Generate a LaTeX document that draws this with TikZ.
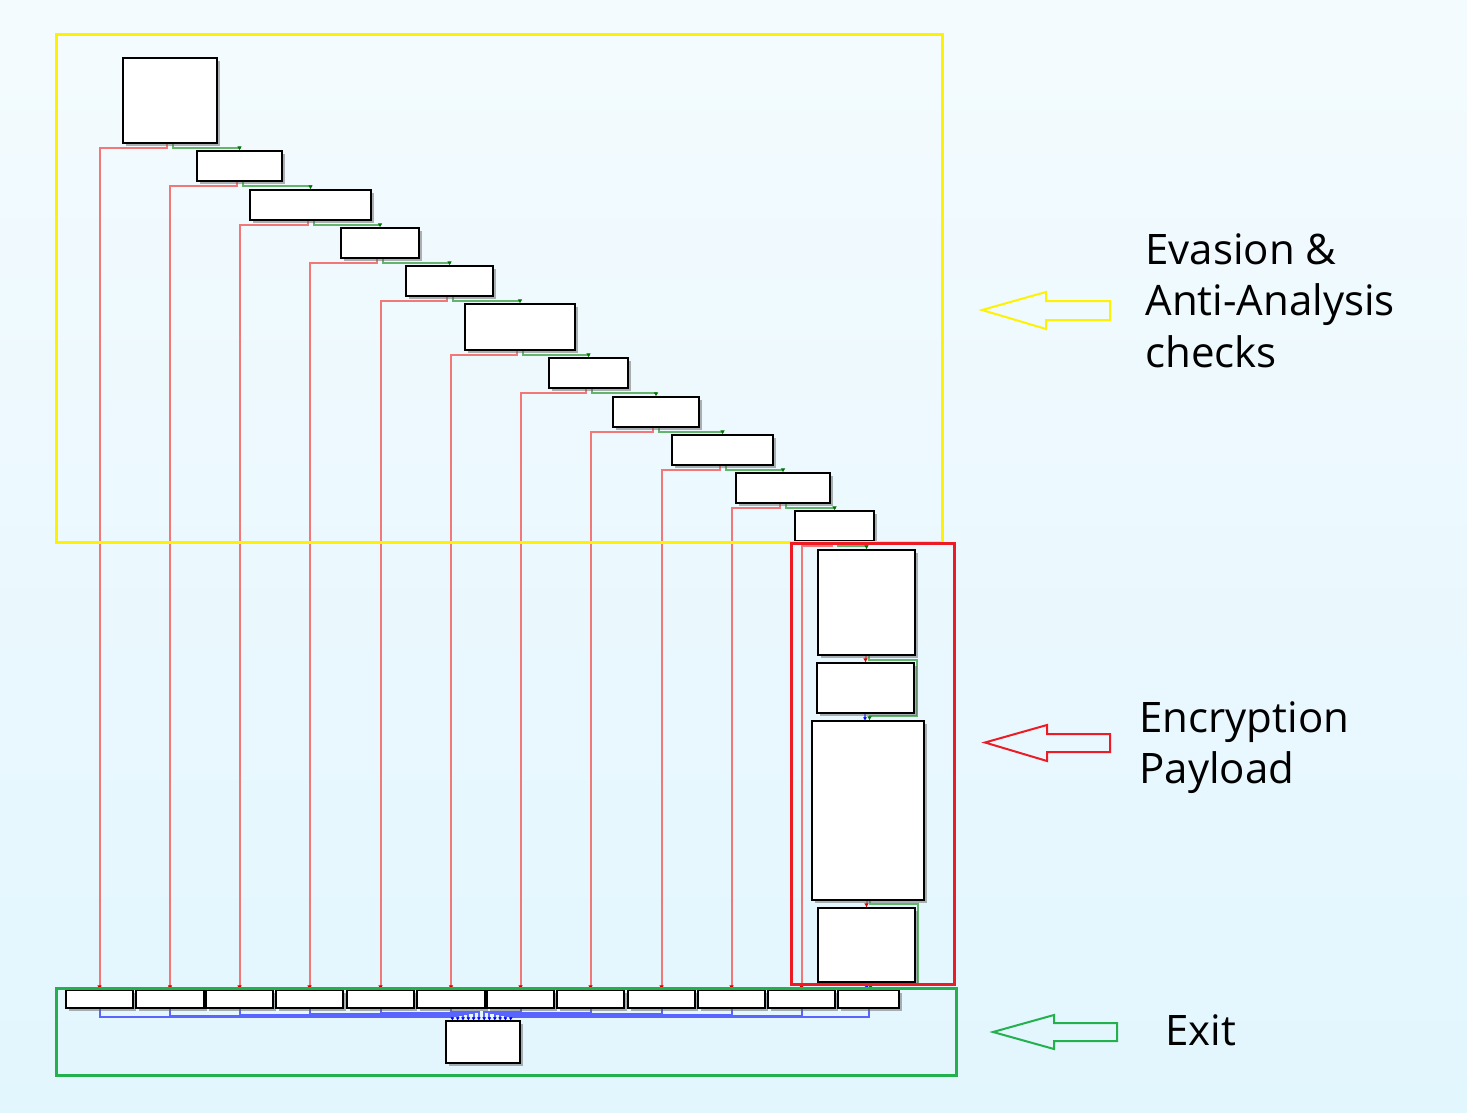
\documentclass[tikz,border=0pt]{standalone}
\usepackage{fontspec}
\setmainfont{Open Sans}
\usetikzlibrary{calc,fit,shadows,arrows.meta}
\pgfdeclarelayer{back}
\pgfdeclarelayer{lines}
\pgfsetlayers{back,lines,main}
\definecolor{bgtop}{RGB}{244,251,254}
\definecolor{bgbot}{RGB}{226,246,254}
\definecolor{redc}{RGB}{242,120,120}
\definecolor{greenc}{RGB}{100,180,110}
\definecolor{bluec}{RGB}{90,100,255}
\definecolor{frameyellow}{RGB}{255,242,0}
\definecolor{framered}{RGB}{237,28,36}
\definecolor{framegreen}{RGB}{34,177,76}
\begin{document}
\begin{tikzpicture}[x=0.5pt,y=-0.5pt,
  blk/.style={draw=black, line width=0.6pt, fill=white, inner sep=0pt,
    drop shadow={shadow xshift=1.6pt,shadow yshift=-1.6pt,fill=black!60,opacity=0.5}},
  redl/.style={draw=redc, line width=1pt, -{Latex[length=2pt,width=2.4pt,color=red!85!black]}},
  greenl/.style={draw=greenc, line width=1pt, -{Latex[length=2pt,width=2.4pt,color=green!45!black]}},
  bluel/.style={draw=bluec, line width=1pt, -{Latex[length=1.5pt,width=2pt,color=blue]}},
  frame/.style={line width=1.5pt},
  bigarrow/.style={line width=1pt, line join=miter},
  lbl/.style={font=\fontsize{21}{25.85}\selectfont, align=left, inner sep=0pt, text=black}
]
\useasboundingbox (0,0) rectangle (1467,1113);
\begin{pgfonlayer}{back}
\shade[top color=bgtop, bottom color=bgbot] (0,0) rectangle (1467,1113);
\end{pgfonlayer}

% chain blocks
\foreach \n/\xa/\ya/\xb/\yb in {
  b1/123/58/217/143, b2/197/151/282/181, b3/250/190/371/220,
  b4/341/228/419/258, b5/406/266/493/296, b6/465/304/575/350,
  b7/549/358/628/388, b8/613/397/699/427, b9/672/435/773/465,
  b10/736/473/830/503, b11/795/511/874/541, b12/818/550/915/655,
  b13/817/663/914/713, b14/812/721/924/900, b15/818/908/915/982}
  \node[blk, fit={(\xa,\ya) (\xb,\yb)}] (\n) {};

% bottom row blocks
\foreach \n/\xa/\xb in {
  r1/66/133, r2/136/204, r3/206/273, r4/276/343, r5/347/414, r6/417/485,
  r7/487/554, r8/557/624, r9/628/695, r10/698/765, r11/768/835, r12/838/899}
  \node[blk, fit={(\xa,990) (\xb,1008)}] (\n) {};

% exit block
\node[blk, fit={(446,1021) (520,1063)}] (ex) {};

\begin{pgfonlayer}{lines}
% evasion chain: false (red) to bottom row, true (green) to next check
\foreach \i [evaluate=\i as \j using int(\i+1)] in {1,...,11} {
  \draw[redl] ($(b\i.south)+(-3,0)$) -- ++(0,4) -| (r\i.north);
  \draw[greenl] ($(b\i.south)+(3,0)$) -- ++(0,4) -| (b\j.north);
}
% encryption payload
\draw[redl] ($(b12.south)+(-1,0)$) -- ($(b13.north)$);
\draw[greenl] ($(b12.south)+(2,0)$) -- ++(0,4) -- ++(48.5,0) |- ($(b14.north)+(1.5,-4)$) -- ($(b14.north)+(1.5,0)$);
\draw[bluel] ($(b13.south)+(-0.5,0)$) -- ($(b14.north)+(-3,0)$);
\draw[redl] ($(b14.south)+(-1.5,0)$) -- (b15.north);
\draw[greenl] ($(b14.south)+(2,0)$) -- ++(0,3) -- ++(48,0) |- ($(r12.north)+(2,-4)$) -- ($(r12.north)+(2,0)$);
\draw[bluel] (b15.south) -- ($(r12.north)+(-2,0)$);
% exits
\foreach \i/\d/\t in {1/8.7/7, 2/7.7/12.3, 3/6.3/17.6, 4/5.3/23, 5/4.3/28.2, 6/3/33.5,
  7/3/38.8, 8/4.3/44, 9/5.3/49.4, 10/6.3/54.7, 11/7.7/60, 12/8.7/65.3}
  \draw[bluel] (r\i.south) -- ++(0,\d) -| ($(ex.north west)+(\t,0)$);
\end{pgfonlayer}

% region frames
\draw[frame, frameyellow] (56,35) rectangle (942,542);
\draw[frame, framered] (791,543) rectangle (954,984);
\draw[frame, framegreen] (56,988) rectangle (956,1075);

% pointer arrows
\draw[bigarrow, frameyellow] (982,310) -- (1046,292) -- (1046,301) -- (1110,301) -- (1110,320) -- (1046,320) -- (1046,329) -- cycle;
\draw[bigarrow, framered] (985,742.5) -- (1047,725) -- (1047,734) -- (1110,734) -- (1110,752) -- (1047,752) -- (1047,761) -- cycle;
\draw[bigarrow, framegreen] (993,1032) -- (1054,1015) -- (1054,1023) -- (1117,1023) -- (1117,1041) -- (1054,1041) -- (1054,1049) -- cycle;

% labels
\node[lbl, anchor=north west] (t1) at (1145,233) {Evasion \&\\Anti-Analysis\\checks};
\node[lbl, anchor=north west] (t2) at (1139,701) {Encryption\\Payload};
\node[lbl, anchor=base west] (t3) at (1165,1045) {Exit};
\end{tikzpicture}
\end{document}
